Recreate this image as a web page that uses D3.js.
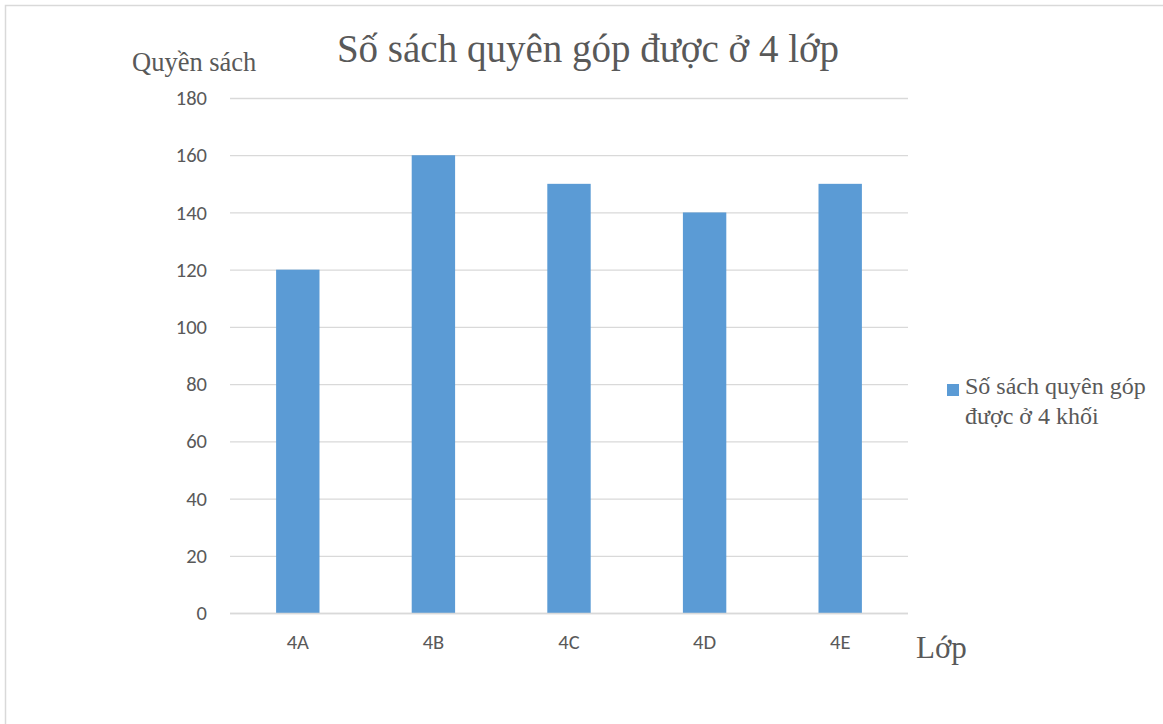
<!DOCTYPE html>
<html>
<head>
<meta charset="utf-8">
<script src="https://cdn.jsdelivr.net/npm/d3@7"></script>
<style>
  html, body { margin: 0; padding: 0; background: #fff; overflow: hidden; }
  svg { display: block; }
</style>
</head>
<body>
<svg id="chart" width="1163" height="724"></svg>
<script>
// Books collected by each class
const classes = ["4A", "4B", "4C", "4D", "4E"];
const books = [120, 160, 150, 140, 150];
const yTicks = [0, 20, 40, 60, 80, 100, 120, 140, 160, 180];

const chartTitle = "Số sách quyên góp được ở 4 lớp";
const yAxisTitle = "Quyền sách";
const xAxisTitle = "Lớp";
const legendLines = ["Số sách quyên góp", "được ở 4 khối"];

const svg = d3.select("#chart");
const W = 1163, H = 724;
const plot = { left: 230, right: 908, top: 98, bottom: 613 };
const barColor = "#5b9bd5";
const textColor = "#595959";
const serif = "'Liberation Serif', 'Times New Roman', serif";
const sans = "Carlito, Lato, 'Liberation Sans', Arial, sans-serif";

// Chart frame
svg.append("rect")
  .attr("x", 5.5).attr("y", 5.5)
  .attr("width", W + 10).attr("height", H + 10)
  .attr("fill", "#fff")
  .attr("stroke", "#d9d9d9").attr("stroke-width", 1.5);

const x = d3.scaleBand()
  .domain(classes)
  .range([plot.left, plot.right])
  .paddingInner(0.68)
  .paddingOuter(0.34);

const y = d3.scaleLinear()
  .domain([0, 180])
  .range([plot.bottom, plot.top]);

// Horizontal gridlines with value labels
const yAxis = d3.axisLeft(y)
  .tickValues(yTicks)
  .tickSize(-(plot.right - plot.left))
  .tickPadding(23);

const gy = svg.append("g")
  .attr("transform", `translate(${plot.left},0)`)
  .call(yAxis);
gy.select(".domain").remove();
gy.selectAll(".tick line")
  .attr("stroke", "#d9d9d9").attr("stroke-width", 1.3);
gy.selectAll(".tick text")
  .attr("fill", textColor)
  .style("font-family", sans)
  .style("font-size", "20.5px");

// Bars
svg.append("g")
  .selectAll("rect")
  .data(classes.map((c, i) => ({ c, v: books[i] })))
  .join("rect")
  .attr("x", d => x(d.c))
  .attr("y", d => y(d.v))
  .attr("width", x.bandwidth())
  .attr("height", d => y(0) - y(d.v))
  .attr("fill", barColor);

// Category axis
const xAxis = d3.axisBottom(x).tickSize(0).tickPadding(21);
const gx = svg.append("g")
  .attr("transform", `translate(0,${plot.bottom})`)
  .call(xAxis);
gx.select(".domain")
  .attr("stroke", "#d9d9d9").attr("stroke-width", 1.3)
  .attr("d", `M${plot.left},0.5H${plot.right}`);
gx.selectAll(".tick text")
  .attr("fill", textColor)
  .style("font-family", sans)
  .style("font-size", "20.5px");

// Titles
svg.append("text")
  .attr("x", 588).attr("y", 62)
  .attr("text-anchor", "middle")
  .attr("fill", textColor)
  .style("font-family", serif)
  .style("font-size", "39px")
  .text(chartTitle);

svg.append("text")
  .attr("x", 132).attr("y", 71)
  .attr("fill", textColor)
  .style("font-family", serif)
  .style("font-size", "26.5px")
  .text(yAxisTitle);

svg.append("text")
  .attr("x", 916).attr("y", 658)
  .attr("fill", textColor)
  .style("font-family", serif)
  .style("font-size", "31px")
  .text(xAxisTitle);

// Legend
const lg = svg.append("g");
lg.append("rect")
  .attr("x", 947).attr("y", 384)
  .attr("width", 12).attr("height", 12)
  .attr("fill", barColor);
lg.selectAll("text")
  .data(legendLines)
  .join("text")
  .attr("x", 965)
  .attr("y", (d, i) => 394 + i * 30)
  .attr("fill", textColor)
  .style("font-family", serif)
  .style("font-size", "24px")
  .text(d => d);
</script>
</body>
</html>
